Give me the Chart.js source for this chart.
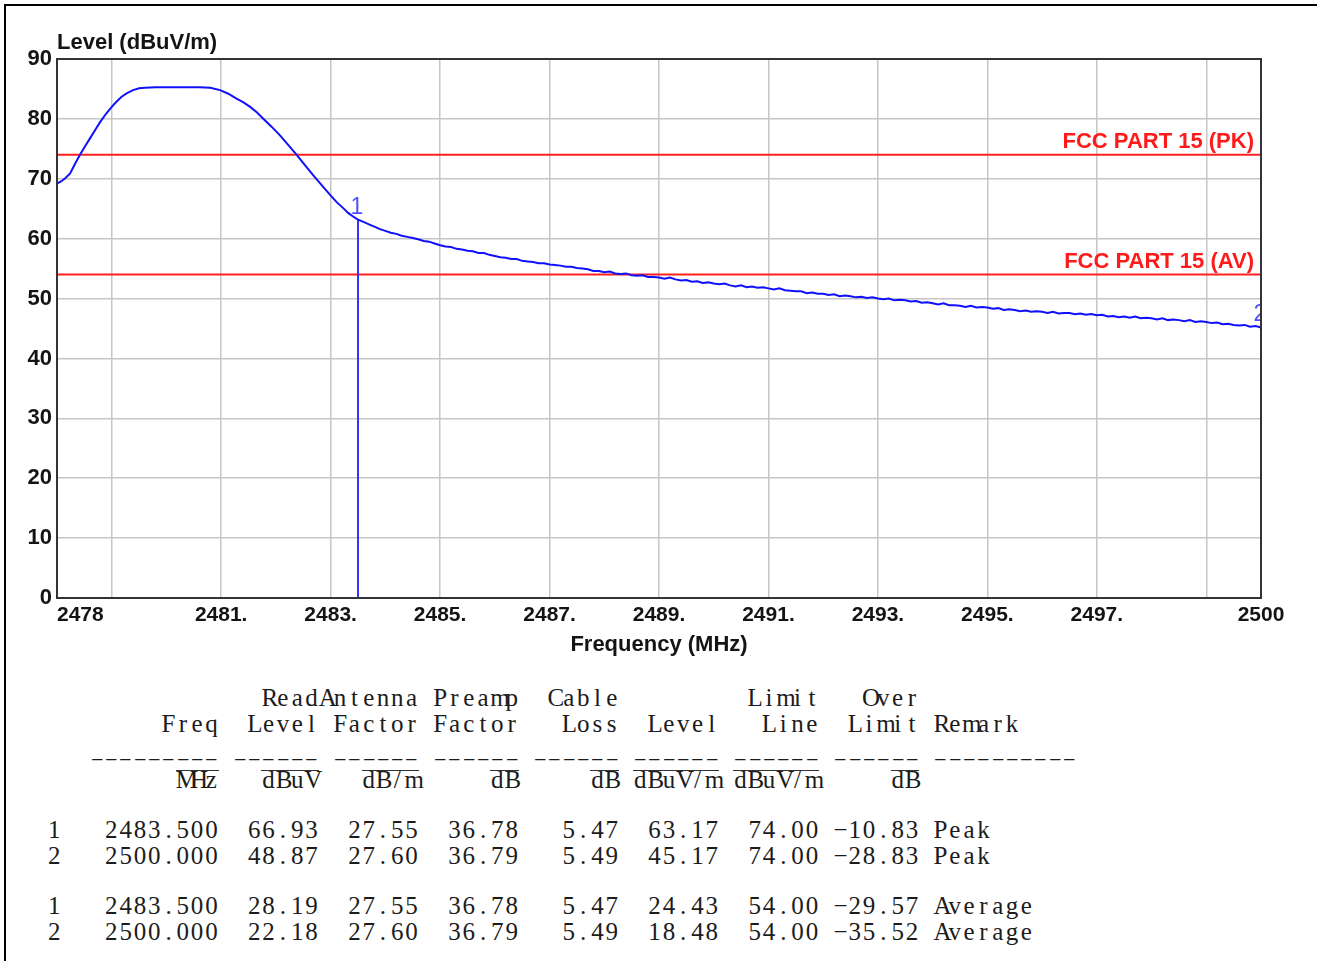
<!DOCTYPE html>
<html>
<head>
<meta charset="utf-8">
<title>Radiated emission 2478 - 2500 MHz</title>
<script src="https://cdn.jsdelivr.net/npm/chart.js@4.4.1/dist/chart.umd.min.js"></script>
<style>
  html, body { margin: 0; padding: 0; background: #fff; }
  #page { position: relative; width: 1317px; height: 961px; overflow: hidden; background: #fff; }
  #frame-top { position: absolute; left: 4px; top: 4px; width: 1313px; height: 2px; background: #000; }
  #frame-left { position: absolute; left: 4px; top: 4px; width: 2px; height: 957px; background: #000; }
  #chart-box { position: absolute; left: 0; top: 0; width: 1317px; height: 680px; }
  #report { position: absolute; left: 0; top: 0; font-family: "Liberation Serif", "DejaVu Serif", serif; font-size: 25px; color: #1c1c1c; }
  .row { position: absolute; left: 47px; height: 28px; line-height: 28px; white-space: pre; }
  .ch { display: inline-block; width: 14.3px; text-align: center; position: relative; }
  .dash { transform: scaleX(0.8); }
  .ol::before { content: ''; position: absolute; left: 0; right: 0; top: 4px; border-top: 1.5px solid #333; }
</style>
</head>
<body>
<div id="page">
  <div id="chart-box"><canvas id="levelChart" width="1317" height="680"></canvas></div>
  <div id="report"></div>
  <div id="frame-top"></div>
  <div id="frame-left"></div>
</div>
<script>
// --- sweep trace: level (dBuV/m) against frequency (MHz) ---
const traceMHz = [
  2478.00, 2478.08, 2478.15, 2478.24, 2478.33, 2478.42, 2478.51, 2478.60, 2478.70, 2478.79,
  2478.90, 2479.00, 2479.09, 2479.18, 2479.28, 2479.39, 2479.50, 2479.61, 2479.80, 2480.00,
  2480.20, 2480.40, 2480.60, 2480.80, 2480.98, 2481.13, 2481.28, 2481.40, 2481.53, 2481.65,
  2481.76, 2481.92, 2482.07, 2482.22, 2482.38, 2482.53, 2482.68, 2482.84, 2482.99, 2483.11,
  2483.23, 2483.32, 2483.41, 2483.50, 2483.60, 2483.70, 2483.80, 2483.90,
  2484.0, 2484.1, 2484.2, 2484.3, 2484.4, 2484.5, 2484.6, 2484.7, 2484.8, 2484.9,
  2485.0, 2485.1, 2485.2, 2485.3, 2485.4, 2485.5, 2485.6, 2485.7, 2485.8, 2485.9,
  2486.0, 2486.1, 2486.2, 2486.3, 2486.4, 2486.5, 2486.6, 2486.7, 2486.8, 2486.9,
  2487.0, 2487.1, 2487.2, 2487.3, 2487.4, 2487.5, 2487.6, 2487.7, 2487.8, 2487.9,
  2488.0, 2488.1, 2488.2, 2488.3, 2488.4, 2488.5, 2488.6, 2488.7, 2488.8, 2488.9,
  2489.0, 2489.1, 2489.2, 2489.3, 2489.4, 2489.5, 2489.6, 2489.7, 2489.8, 2489.9,
  2490.0, 2490.1, 2490.2, 2490.3, 2490.4, 2490.5, 2490.6, 2490.7, 2490.8, 2490.9,
  2491.0, 2491.1, 2491.2, 2491.3, 2491.4, 2491.5, 2491.6, 2491.7, 2491.8, 2491.9,
  2492.0, 2492.1, 2492.2, 2492.3, 2492.4, 2492.5, 2492.6, 2492.7, 2492.8, 2492.9,
  2493.0, 2493.1, 2493.2, 2493.3, 2493.4, 2493.5, 2493.6, 2493.7, 2493.8, 2493.9,
  2494.0, 2494.1, 2494.2, 2494.3, 2494.4, 2494.5, 2494.6, 2494.7, 2494.8, 2494.9,
  2495.0, 2495.1, 2495.2, 2495.3, 2495.4, 2495.5, 2495.6, 2495.7, 2495.8, 2495.9,
  2496.0, 2496.1, 2496.2, 2496.3, 2496.4, 2496.5, 2496.6, 2496.7, 2496.8, 2496.9,
  2497.0, 2497.1, 2497.2, 2497.3, 2497.4, 2497.5, 2497.6, 2497.7, 2497.8, 2497.9,
  2498.0, 2498.1, 2498.2, 2498.3, 2498.4, 2498.5, 2498.6, 2498.7, 2498.8, 2498.9,
  2499.0, 2499.1, 2499.2, 2499.3, 2499.4, 2499.5, 2499.6, 2499.7, 2499.8, 2499.9,
  2500.0
];
const traceLevel = [
  69.2, 69.6, 70.1, 70.9, 72.5, 74.0, 75.4, 76.7, 78.2, 79.5,
  80.9, 82.0, 82.9, 83.7, 84.3, 84.8, 85.1, 85.2, 85.3, 85.3,
  85.3, 85.3, 85.3, 85.2, 84.8, 84.2, 83.4, 82.8, 82.0, 81.1,
  80.1, 78.7, 77.3, 75.7, 74.0, 72.3, 70.6, 68.9, 67.3, 66.1,
  65.1, 64.3, 63.7, 63.17, 62.8, 62.4, 62.0, 61.6,
  61.3, 61.0, 60.8, 60.5, 60.3, 60.1, 59.9, 59.6, 59.5, 59.2,
  58.9, 58.7, 58.6, 58.3, 58.2, 58.0, 57.9, 57.6, 57.6, 57.3,
  57.1, 56.9, 56.8, 56.6, 56.6, 56.3, 56.2, 56.1, 55.9, 55.9,
  55.7, 55.6, 55.5, 55.3, 55.3, 55.1, 55.0, 54.9, 54.6, 54.6,
  54.4, 54.5, 54.2, 54.1, 54.2, 53.9, 53.8, 53.9, 53.6, 53.6,
  53.5, 53.3, 53.5, 53.2, 53.0, 53.1, 52.8, 52.9, 52.6, 52.7,
  52.5, 52.4, 52.5, 52.2, 52.0, 52.2, 51.9, 52.0, 51.8, 51.9,
  51.7, 51.5, 51.7, 51.4, 51.3, 51.2, 51.2, 50.9, 51.0, 50.8,
  50.8, 50.6, 50.7, 50.4, 50.5, 50.4, 50.2, 50.3, 50.1, 50.2,
  50.0, 49.9, 50.0, 49.7, 49.8, 49.7, 49.5, 49.6, 49.3, 49.4,
  49.2, 49.0, 49.2, 48.9, 48.9, 48.8, 48.6, 48.8, 48.5, 48.6,
  48.5, 48.3, 48.4, 48.1, 48.2, 48.1, 47.9, 48.0, 47.8, 47.9,
  47.8, 47.6, 47.8, 47.5, 47.6, 47.6, 47.4, 47.5, 47.3, 47.4,
  47.2, 47.3, 47.0, 47.1, 46.9, 47.0, 46.8, 47.0, 46.7, 46.8,
  46.7, 46.5, 46.7, 46.4, 46.5, 46.4, 46.2, 46.4, 46.1, 46.2,
  46.1, 45.9, 46.0, 45.7, 45.8, 45.6, 45.5, 45.6, 45.3, 45.4,
  45.17
];

// limit lines
const limitNames = ['FCC PART 15 (PK)', 'FCC PART 15 (AV)'];
const limitLevels = [74, 54];

// markers
const markerIds = ['1', '2'];
const markerMHz = [2483.5, 2500];
const markerLevels = [63.17, 45.17];

// axes
const freqRange = [2478, 2500];
const levelRange = [0, 90];
const levelStep = 10;
const xGridMHz = [2478, 2479, 2481, 2483, 2485, 2487, 2489, 2491, 2493, 2495, 2497, 2499, 2500];
const xTickLabels = ['2478', '', '2481.', '2483.', '2485.', '2487.', '2489.', '2491.', '2493.', '2495.', '2497.', '', '2500'];
const xTitle = 'Frequency (MHz)';
const yTitle = 'Level (dBuV/m)';

// result table printed under the plot
const reportLines = [
  { top: 684, text: '               ReadAntenna Preamp  Cable         Limit   Over' },
  { top: 710, text: '        Freq  Level Factor Factor   Loss  Level   Line  Limit Remark' },
  { top: 744, text: '   ––––––––– –––––– –––––– –––––– –––––– –––––– –––––– –––––– ––––––––––' },
  { top: 766, text: '         MHz   dBuV   dB/m     dB     dB dBuV/m dBuV/m     dB', overline: true },
  { top: 816, text: '1   2483.500  66.93  27.55  36.78   5.47  63.17  74.00 −10.83 Peak' },
  { top: 842, text: '2   2500.000  48.87  27.60  36.79   5.49  45.17  74.00 −28.83 Peak' },
  { top: 892, text: '1   2483.500  28.19  27.55  36.78   5.47  24.43  54.00 −29.57 Average' },
  { top: 918, text: '2   2500.000  22.18  27.60  36.79   5.49  18.48  54.00 −35.52 Average' }
];

const AXIS_FONT = '"Liberation Sans", Arial, sans-serif';
const TEXT_DARK = '#141414';

// fixed-pitch print of the table (one cell per character)
function renderReport() {
  const box = document.getElementById('report');
  reportLines.forEach(line => {
    const row = document.createElement('div');
    row.className = 'row';
    row.style.top = line.top + 'px';
    for (const ch of line.text) {
      const cell = document.createElement('span');
      let cls = 'ch';
      if (ch === '–') cls += ' dash';
      if (line.overline && ch !== ' ') cls += ' ol';
      cell.className = cls;
      cell.textContent = ch === ' ' ? '\u00a0' : ch;
      row.appendChild(cell);
    }
    box.appendChild(row);
  });
}

const plotDecor = {
  id: 'plotDecor',
  afterDatasetsDraw(chart) {
    const { ctx, chartArea: a, scales: { x, y } } = chart;
    ctx.save();

    // limit line names, right aligned above each line
    ctx.font = 'bold 22px ' + AXIS_FONT;
    ctx.fillStyle = '#ff1a1a';
    ctx.textAlign = 'right';
    ctx.textBaseline = 'alphabetic';
    limitNames.forEach((name, i) => {
      ctx.fillText(name, a.right - 7, y.getPixelForValue(limitLevels[i]) - 7);
    });

    // marker numbers, clipped at the plot edge
    ctx.beginPath();
    ctx.rect(a.left, a.top, a.right - a.left, a.bottom - a.top);
    ctx.clip();
    ctx.font = '23px ' + AXIS_FONT;
    ctx.fillStyle = '#4f4fff';
    ctx.textAlign = 'center';
    markerIds.forEach((id, i) => {
      ctx.fillText(id, x.getPixelForValue(markerMHz[i]) - 1, y.getPixelForValue(markerLevels[i]) - 6);
    });
    ctx.restore();
  },
  afterDraw(chart) {
    const { ctx, chartArea: a, scales: { x } } = chart;
    ctx.save();

    // plot frame
    ctx.strokeStyle = '#333';
    ctx.lineWidth = 2;
    ctx.strokeRect(a.left, a.top, a.right - a.left, a.bottom - a.top);

    ctx.fillStyle = TEXT_DARK;
    ctx.font = 'bold 21px ' + AXIS_FONT;
    ctx.textBaseline = 'middle';
    xGridMHz.forEach((v, i) => {
      if (!xTickLabels[i]) return;
      ctx.textAlign = i === 0 ? 'left' : 'center';
      const px = i === 0 ? a.left : x.getPixelForValue(v);
      ctx.fillText(xTickLabels[i], px, a.bottom + 17);
    });

    ctx.font = 'bold 22px ' + AXIS_FONT;
    ctx.textAlign = 'center';
    ctx.fillText(xTitle, (a.left + a.right) / 2, a.bottom + 47);
    ctx.textAlign = 'left';
    ctx.fillText(yTitle, a.left, a.top - 16);
    ctx.restore();
  }
};

function buildChart() {
  const ctx = document.getElementById('levelChart');

  const trace = traceMHz.map((f, i) => ({ x: f, y: traceLevel[i] }));
  const limitSets = limitLevels.map((lv, i) => ({
    label: limitNames[i],
    data: [{ x: freqRange[0], y: lv }, { x: freqRange[1], y: lv }],
    borderColor: '#ff1f1f',
    borderWidth: 2
  }));
  const markerSets = markerIds.map((id, i) => ({
    label: 'Marker ' + id,
    data: [{ x: markerMHz[i], y: levelRange[0] }, { x: markerMHz[i], y: markerLevels[i] }],
    borderColor: '#3535ff',
    borderWidth: 2
  }));

  return new Chart(ctx, {
    type: 'line',
    data: {
      datasets: [
        { label: 'Level', data: trace, borderColor: '#1010ff', borderWidth: 2 },
        ...markerSets,
        ...limitSets
      ]
    },
    options: {
      responsive: false,
      animation: false,
      devicePixelRatio: 1,
      layout: { padding: { left: 0, top: 59, right: 56, bottom: 0 } },
      elements: { point: { radius: 0 }, line: { tension: 0, fill: false } },
      plugins: { legend: { display: false }, tooltip: { enabled: false } },
      scales: {
        x: {
          type: 'linear',
          min: freqRange[0],
          max: freqRange[1],
          afterBuildTicks: scale => { scale.ticks = xGridMHz.map(v => ({ value: v })); },
          afterFit: scale => { scale.height = 82; },
          ticks: { display: false },
          grid: { color: '#c6c6c6', lineWidth: 1.5, drawTicks: false },
          border: { display: false }
        },
        y: {
          min: levelRange[0],
          max: levelRange[1],
          afterFit: scale => { scale.width = 57; },
          ticks: {
            stepSize: levelStep,
            padding: 5,
            color: TEXT_DARK,
            font: { family: AXIS_FONT, size: 22, weight: 'bold' }
          },
          grid: { color: '#c6c6c6', lineWidth: 1.5, drawTicks: false },
          border: { display: false }
        }
      }
    },
    plugins: [plotDecor]
  });
}

renderReport();
buildChart();
</script>
</body>
</html>
